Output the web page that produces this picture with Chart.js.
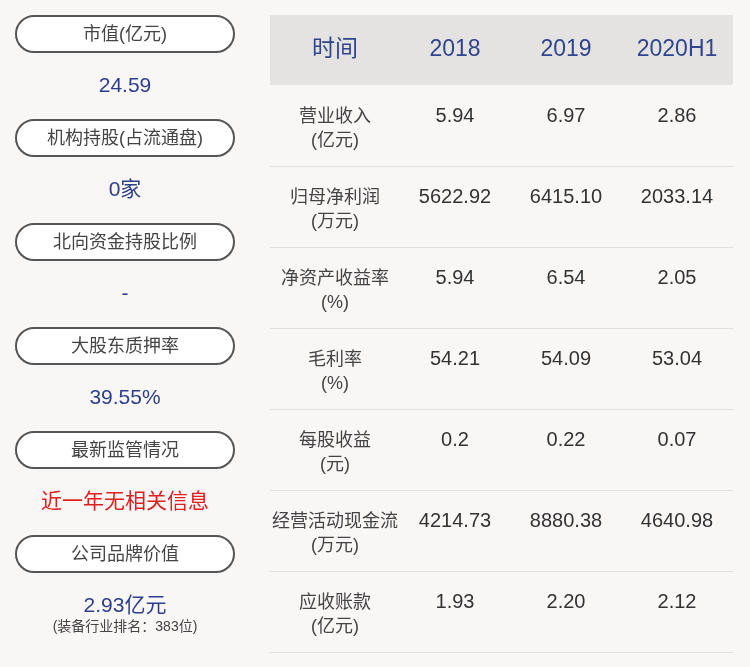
<!DOCTYPE html>
<html><head><meta charset="utf-8">
<script src="https://cdn.jsdelivr.net/npm/chart.js@4/dist/chart.umd.min.js"></script>
<style>html,body{margin:0;padding:0;background:#f9f6f6;}#w{width:750px;height:667px;}</style>
</head><body><div id="w"><canvas id="c" width="750" height="667"></canvas></div>
<script>
const leftTitles = ['市值(亿元)','机构持股(占流通盘)','北向资金持股比例','大股东质押率','最新监管情况','公司品牌价值'];
const leftValues = ['24.59','0家','-','39.55%','近一年无相关信息','2.93亿元'];
const leftNote = '(装备行业排名：383位)';
const headers = ['时间','2018','2019','2020H1'];
const rowLabels = [['营业收入','(亿元)'],['归母净利润','(万元)'],['净资产收益率','(%)'],['毛利率','(%)'],['每股收益','(元)'],['经营活动现金流','(万元)'],['应收账款','(亿元)']];
const v2018 = ['5.94','5622.92','5.94','54.21','0.2','4214.73','1.93'];
const v2019 = ['6.97','6415.10','6.54','54.09','0.22','8880.38','2.20'];
const v2020 = ['2.86','2033.14','2.05','53.04','0.07','4640.98','2.12'];
const F = '"Liberation Sans","Noto Sans CJK SC",sans-serif';
const tablePlugin = {
  id: 'tbl',
  afterDraw(chart) {
    const ctx = chart.ctx, ys = chart.scales.y, ca = chart.chartArea;
    const cols = [335, 455, 566, 677];
    ctx.save();
    ctx.textAlign = 'center'; ctx.textBaseline = 'middle';
    ctx.fillStyle = '#e5e2e2';
    ctx.fillRect(ca.left, 15, ca.right - ca.left, ca.top - 15);
    ctx.fillStyle = '#2f4590'; ctx.font = '23px ' + F;
    headers.forEach((h, i) => ctx.fillText(h, cols[i], 50));
    const step = (ys.bottom - ys.top) / rowLabels.length;
    rowLabels.forEach((lab, i) => {
      const yc = ys.getPixelForValue(i);
      const top = yc - step / 2;
      ctx.fillStyle = '#444'; ctx.font = '18px ' + F;
      ctx.fillText(lab[0], cols[0], top + 32);
      ctx.fillText(lab[1], cols[0], top + 56);
      ctx.fillStyle = '#333'; ctx.font = '20px ' + F;
      [v2018, v2019, v2020].forEach((arr, j) => ctx.fillText(arr[i], cols[j + 1], top + 31));
      ctx.strokeStyle = '#e2dede'; ctx.lineWidth = 1;
      ctx.beginPath(); ctx.moveTo(ca.left, top + step + 0.5); ctx.lineTo(ca.right, top + step + 0.5); ctx.stroke();
    });
    leftTitles.forEach((t, i) => {
      const cy = 34 + i * 104;
      const x = 16, w = 218, h = 36, r = 18;
      ctx.beginPath();
      ctx.moveTo(x + r, cy - h/2); ctx.lineTo(x + w - r, cy - h/2);
      ctx.arc(x + w - r, cy, r, -Math.PI/2, Math.PI/2);
      ctx.lineTo(x + r, cy + h/2);
      ctx.arc(x + r, cy, r, Math.PI/2, Math.PI*1.5);
      ctx.closePath();
      ctx.fillStyle = '#ffffff'; ctx.fill();
      ctx.strokeStyle = '#555'; ctx.lineWidth = 2; ctx.stroke();
      ctx.fillStyle = '#444'; ctx.font = '18px ' + F;
      ctx.fillText(t, 125, cy + 1);
      ctx.font = '21px ' + F;
      ctx.fillStyle = i === 4 ? '#e0201f' : '#2b3f8a';
      ctx.fillText(leftValues[i], 125, cy + 52);
    });
    ctx.fillStyle = '#444'; ctx.font = '14px ' + F;
    ctx.fillText(leftNote, 125, 627);
    ctx.restore();
  }
};
new Chart(document.getElementById('c'), {
  type: 'bar',
  data: { labels: rowLabels.map(r => r[0]), datasets: [{ data: [] }] },
  options: {
    responsive: false, animation: false, indexAxis: 'y',
    layout: { padding: { top: 85, bottom: 15, left: 270, right: 17 } },
    plugins: { legend: { display: false }, tooltip: { enabled: false } },
    scales: {
      y: { type: 'category', display: false, offset: true },
      x: { display: false }
    }
  },
  plugins: [tablePlugin]
});
</script></body></html>
